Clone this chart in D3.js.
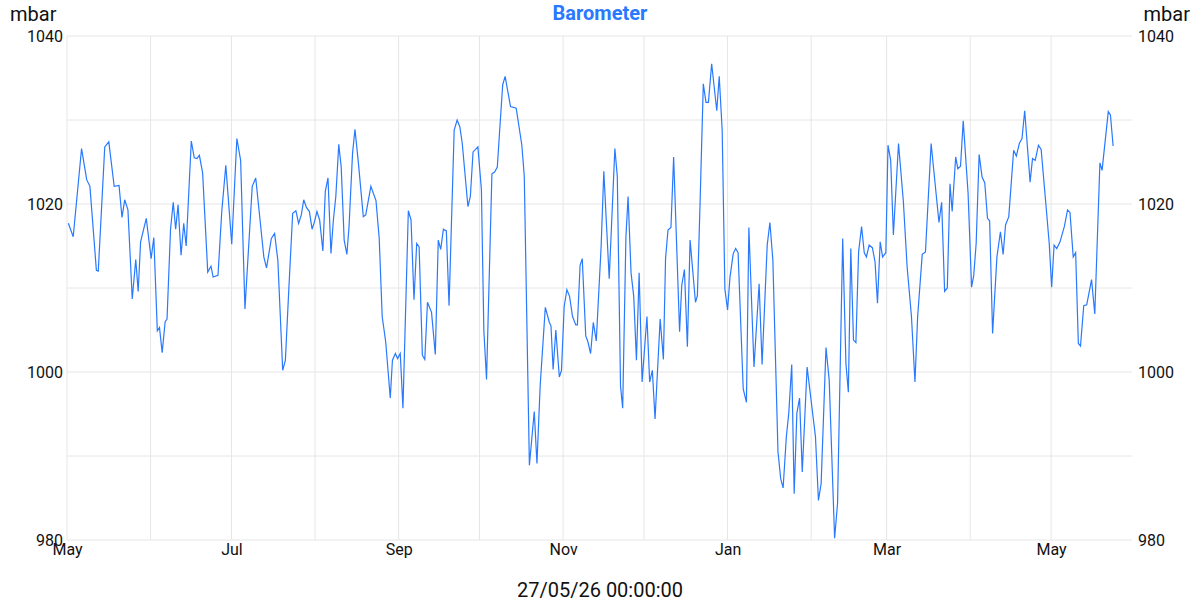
<!DOCTYPE html>
<html>
<head>
<meta charset="utf-8">
<script src="https://cdn.jsdelivr.net/npm/d3@7"></script>
<style>
body { margin: 0; background: #fff; font-family: Roboto, sans-serif; }
.grid line { stroke: #e6e6e6; }
.axis text { font-size: 16px; fill: #111; font-family: Roboto, sans-serif; }
</style>
</head>
<body>
<script>
// days since 1 May 2025 (vertices) and pressure in mbar
var days = [0.5,2.3,5.4,7.3,8.5,10.9,11.6,14.0,15.5,17.5,19.3,20.4,21.4,22.6,24.2,25.5,26.4,27.3,29.4,31.2,32.2,33.5,34.3,35.3,36.4,37.1,38.4,39.4,40.3,41.2,42.3,43.3,44.2,46.1,47.2,48.2,49.1,50.3,52.2,53.4,54.2,56.0,57.4,58.9,61.1,63.0,
  64.4,66.0,68.7,70.0,73.0,74.0,75.8,77.0,78.2,80.0,81.0,82.2,83.7,84.9,85.9,86.9,87.8,88.8,89.9,90.9,91.8,92.7,93.7,94.9,95.8,96.8,97.9,98.8,99.7,100.8,101.7,102.8,103.8,104.6,105.9,106.8,108.1,109.9,110.8,112.7,114.6,115.8,116.9,118.2,119.9,120.7,121.8,122.6,123.6,124.6,
  126.6,127.6,128.7,129.7,130.6,131.8,132.7,133.7,135.2,136.6,137.7,138.6,139.6,140.7,141.7,143.6,144.7,145.7,146.6,148.7,149.6,150.6,152.4,153.7,154.6,155.6,157.6,158.6,159.6,160.4,161.6,162.5,164.5,166.6,168.7,169.6,171.5,173.3,174.3,175.5,177.4,178.9,179.5,180.3,181.3,182.6,183.4,184.4,185.4,186.4,187.5,188.7,
  189.3,190.3,191.1,192.4,193.2,194.2,195.2,196.3,198.1,199.1,201.1,203.2,204.1,205.3,206.1,207.3,208.1,209.2,210.2,211.2,212.2,213.3,215.1,216.1,217.1,218.1,220.0,221.2,222.0,222.9,224.0,225.0,227.2,228.0,229.0,230.1,231.1,233.1,233.8,234.8,236.0,237.0,237.9,239.1,241.0,241.9,243.0,244.0,245.0,245.9,247.1,248.0,248.9,250.8,252.0,
  252.9,254.8,256.7,257.8,259.7,260.7,261.8,263.7,264.7,265.6,266.8,267.7,268.8,269.7,270.7,271.7,272.7,274.5,277.6,278.7,279.7,281.5,282.7,284.7,285.8,287.7,288.9,289.8,290.7,291.7,292.6,293.6,294.7,295.7,296.5,297.5,298.7,299.7,300.6,301.6,302.5,303.7,304.5,305.5,306.5,308.4,310.2,311.6,313.2,314.5,315.5,317.2,318.4,320.5,
  322.2,323.4,324.4,325.5,326.5,327.5,328.3,329.6,330.4,331.4,332.4,334.2,335.5,336.3,337.2,338.3,339.4,340.4,341.4,342.2,343.3,344.9,346.2,347.2,348.1,349.3,351.1,352.1,353.2,354.2,355.2,357.2,358.1,359.1,360.3,361.3,363.0,364.3,365.2,366.1,367.1,368.3,369.9,371.1,372.0,373.2,374.1,375.1,375.9,377.1,378.2,380.0,381.2,383.1,383.9,386.2,387.0,388.0];
var pressure = [1017.7,1016.1,1026.6,1022.9,1022.1,1012.1,1012.0,1026.8,1027.4,1022.1,1022.2,1018.4,1020.5,1019.3,1008.7,1013.4,1009.6,1015.5,1018.3,1013.5,1016.0,1004.9,1005.3,1002.3,1006.0,1006.3,1017.0,1020.2,1017.0,1019.9,1013.9,1017.7,1015.0,1027.5,1025.5,1025.4,1025.8,1023.7,1011.9,1012.6,1011.3,1011.5,1019.1,1024.6,1015.2,1027.8,
  1025.2,1007.5,1022.1,1023.1,1013.7,1012.4,1015.9,1016.5,1013.3,1000.2,1001.4,1009.4,1018.9,1019.2,1017.7,1018.7,1020.5,1019.6,1019.1,1017.0,1017.9,1019.1,1018.1,1014.4,1021.5,1023.1,1014.1,1018.1,1020.9,1027.1,1024.4,1015.7,1014.0,1017.3,1026.0,1028.9,1024.8,1018.5,1018.7,1022.1,1020.4,1015.9,1006.6,1003.6,996.9,1001.4,1002.2,1001.6,1002.2,995.7,
  1019.2,1018.1,1008.6,1015.3,1014.9,1002.0,1001.5,1008.3,1007.1,1002.1,1015.7,1014.6,1017.0,1016.8,1007.9,1028.8,1030.0,1029.2,1027.2,1019.7,1020.9,1026.2,1026.8,1021.7,1005.0,999.1,1023.6,1023.8,1024.4,1028.4,1034.2,1035.2,1031.6,1031.4,1027.0,1023.3,988.9,995.3,989.1,998.4,1007.7,1005.9,1005.5,1000.3,1005.0,999.4,1000.2,1007.8,1009.8,1009.0,1006.6,1005.6,
  1005.6,1012.7,1013.5,1004.3,1003.6,1002.2,1005.9,1003.7,1014.9,1023.9,1011.1,1026.6,1023.3,998.3,995.7,1016.1,1020.9,1011.8,1009.0,1001.4,1011.8,998.8,1006.6,998.8,1000.2,994.4,1006.3,1001.5,1013.5,1016.9,1017.2,1025.6,1004.8,1010.3,1012.2,1003.0,1015.7,1008.3,1009.1,1020.1,1034.3,1032.1,1032.1,1036.7,1031.1,1035.2,1028.8,1009.9,1007.4,1011.3,1014.1,1014.7,1014.2,998.0,996.4,
  1017.2,1000.6,1010.5,1000.9,1015.1,1017.8,1013.3,990.5,987.3,986.2,992.3,995.1,1000.9,985.5,995.1,996.9,988.1,1000.6,992.3,984.7,986.7,1002.9,999.0,980.2,984.4,1015.9,1001.0,997.6,1014.7,1003.8,1003.5,1014.3,1017.3,1014.2,1013.7,1015.1,1014.8,1013.1,1008.2,1015.5,1013.7,1014.2,1027.0,1025.2,1016.3,1027.2,1020.3,1012.5,1006.6,998.8,1006.6,1014.0,1014.3,1027.2,
  1021.7,1017.8,1020.2,1009.6,1010.0,1022.4,1019.1,1025.6,1024.2,1024.5,1029.9,1021.3,1010.1,1011.5,1015.3,1025.9,1023.2,1022.5,1018.3,1018.0,1004.6,1013.7,1016.7,1014.0,1017.5,1018.5,1026.4,1025.7,1027.2,1027.8,1031.1,1022.6,1025.4,1025.2,1027.0,1026.5,1020.2,1015.3,1010.1,1015.1,1014.7,1015.5,1017.3,1019.3,1019.0,1013.7,1014.2,1003.4,1003.1,1007.9,1008.0,1011.0,1006.9,1024.9,1024.0,1031.0,1030.6,1026.9];
var yTicks = [980, 1000, 1020, 1040];
var title = "Barometer";
var unit = "mbar";
var footer = "27/05/26 00:00:00";

var w = 1200, h = 600;
var mLeft = 67, mRight = 1132, mTop = 36, mBottom = 540;
var start = new Date(2025, 4, 1);

var data = days.map(function(d, i) {
  return { date: new Date(start.getTime() + d * 86400000), v: pressure[i] };
});

var x = d3.scaleTime()
    .domain([start, new Date(start.getTime() + 395 * 86400000)])
    .range([mLeft, mRight]);
var y = d3.scaleLinear().domain([980, 1040]).range([mBottom, mTop]);

var svg = d3.select("body").append("svg").attr("width", w).attr("height", h);

// grid
var grid = svg.append("g").attr("class", "grid");
grid.selectAll(".v").data(x.ticks(d3.timeMonth.every(1))).enter().append("line")
    .attr("x1", function(d) { return x(d); }).attr("x2", function(d) { return x(d); })
    .attr("y1", mTop).attr("y2", mBottom);
grid.selectAll(".h").data(d3.range(980, 1041, 10)).enter().append("line")
    .attr("x1", mLeft).attr("x2", mRight)
    .attr("y1", function(d) { return y(d); }).attr("y2", function(d) { return y(d); });

// axes
var fmt = d3.timeFormat("%b");
svg.append("g").attr("class", "axis").attr("transform", "translate(0," + mBottom + ")")
    .call(d3.axisBottom(x).ticks(d3.timeMonth.every(2)).tickFormat(fmt).tickSize(0).tickPadding(4))
    .call(function(g) { g.select(".domain").remove(); });
svg.append("g").attr("class", "axis").attr("transform", "translate(" + mLeft + ",0)")
    .call(d3.axisLeft(y).tickValues(yTicks).tickFormat(d3.format("d")).tickSize(0).tickPadding(4))
    .call(function(g) { g.select(".domain").remove(); });
svg.append("g").attr("class", "axis").attr("transform", "translate(" + mRight + ",0)")
    .call(d3.axisRight(y).tickValues(yTicks).tickFormat(d3.format("d")).tickSize(0).tickPadding(6))
    .call(function(g) { g.select(".domain").remove(); });

// line
svg.append("path").datum(data)
    .attr("fill", "none").attr("stroke", "#2979ff").attr("stroke-width", 1.2)
    .attr("d", d3.line().x(function(d) { return x(d.date); }).y(function(d) { return y(d.v); }));

// texts
svg.append("text").attr("x", 600).attr("y", 20).attr("text-anchor", "middle")
    .attr("font-size", 20).attr("font-weight", "bold").attr("fill", "#2979ff").text(title);
svg.append("text").attr("x", 10).attr("y", 21).attr("font-size", 20).attr("fill", "#111").text(unit);
svg.append("text").attr("x", 1190).attr("y", 21).attr("text-anchor", "end").attr("font-size", 20).attr("fill", "#111").text(unit);
svg.append("text").attr("x", 600).attr("y", 597).attr("text-anchor", "middle")
    .attr("font-size", 20).attr("fill", "#111").text(footer);
</script>
</body>
</html>
